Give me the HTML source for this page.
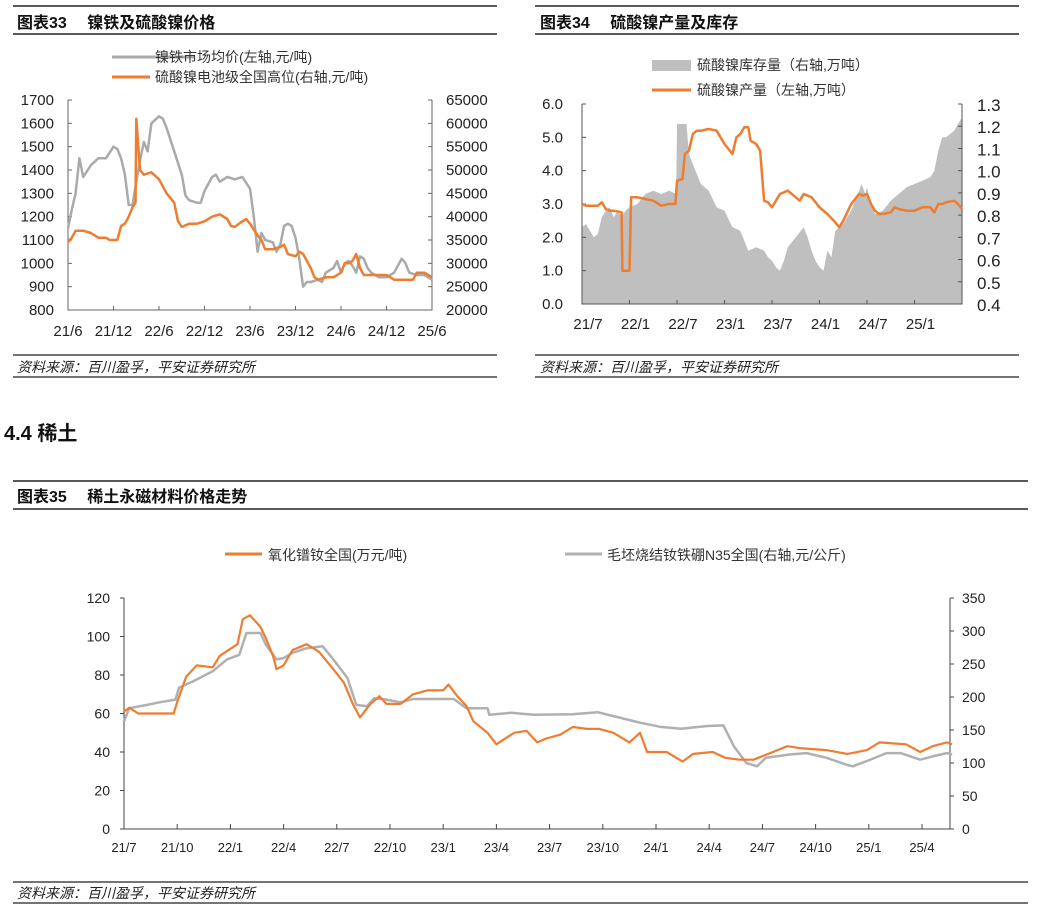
<!DOCTYPE html>
<html><head><meta charset="utf-8">
<style>
body{margin:0;background:#fff;width:1040px;height:910px;overflow:hidden;}
svg{display:block;font-family:"Liberation Sans","Noto Sans CJK SC",sans-serif;}
</style></head>
<body>
<svg id="page" width="1040" height="910" viewBox="0 0 1040 910" xmlns="http://www.w3.org/2000/svg">
 <g>
  <line x1="13" y1="6" x2="497" y2="6" stroke="#222" stroke-width="1.5"/>
  <text x="17" y="28" font-size="16" font-weight="bold" fill="#111">图表33　 镍铁及硫酸镍价格</text>
  <line x1="13" y1="34" x2="497" y2="34" stroke="#222" stroke-width="1.5"/>
  <line x1="68" y1="57" x2="150" y2="57" stroke="#aaa" stroke-width="3" transform="translate(44,0) scale(1,1)" />
  <text x="155" y="62" font-size="14" fill="#333">镍铁市场均价(左轴,元/吨)</text>
  <text x="155" y="82" font-size="14" fill="#333">硫酸镍电池级全国高位(右轴,元/吨)</text>
  <line x1="13" y1="355" x2="497" y2="355" stroke="#222" stroke-width="1.2"/>
  <text x="17" y="372" font-size="14" font-style="italic" fill="#222">资料来源：百川盈孚，平安证券研究所</text>
  <line x1="13" y1="377" x2="497" y2="377" stroke="#222" stroke-width="1.2"/>
 </g>
 <g>
  <line x1="535" y1="6" x2="1019" y2="6" stroke="#222" stroke-width="1.5"/>
  <text x="540" y="28" font-size="16" font-weight="bold" fill="#111">图表34　 硫酸镍产量及库存</text>
  <line x1="535" y1="34" x2="1019" y2="34" stroke="#222" stroke-width="1.5"/>
  <rect x="652" y="60" width="39" height="11" fill="#bfbfbf"/>
  <text x="697" y="70" font-size="14" fill="#333">硫酸镍库存量（右轴,万吨）</text>
  <line x1="652" y1="90" x2="691" y2="90" stroke="#ED7D31" stroke-width="3"/>
  <text x="697" y="95" font-size="14" fill="#333">硫酸镍产量（左轴,万吨）</text>
  <line x1="535" y1="355" x2="1019" y2="355" stroke="#222" stroke-width="1.2"/>
  <text x="540" y="372" font-size="14" font-style="italic" fill="#222">资料来源：百川盈孚，平安证券研究所</text>
  <line x1="535" y1="377" x2="1019" y2="377" stroke="#222" stroke-width="1.2"/>
 </g>
 <text x="4" y="440" font-size="20" font-weight="bold" fill="#111">4.4 稀土</text>
 <g>
  <line x1="13" y1="481" x2="1028" y2="481" stroke="#222" stroke-width="1.5"/>
  <text x="17" y="502" font-size="16" font-weight="bold" fill="#111">图表35　 稀土永磁材料价格走势</text>
  <line x1="13" y1="509" x2="1028" y2="509" stroke="#222" stroke-width="1.5"/>
  <line x1="225" y1="554" x2="262" y2="554" stroke="#ED7D31" stroke-width="3"/>
  <text x="268" y="560" font-size="14" fill="#333">氧化镨钕全国(万元/吨)</text>
  <line x1="565" y1="554" x2="602" y2="554" stroke="#b0b0b0" stroke-width="3"/>
  <text x="607" y="560" font-size="14" fill="#333">毛坯烧结钕铁硼N35全国(右轴,元/公斤)</text>
  <line x1="13" y1="882" x2="1028" y2="882" stroke="#222" stroke-width="1.2"/>
  <text x="17" y="898" font-size="14" font-style="italic" fill="#222">资料来源：百川盈孚，平安证券研究所</text>
  <line x1="13" y1="903" x2="1028" y2="903" stroke="#222" stroke-width="1.2"/>
 </g>
 <g id="c33"></g><g id="c34"></g><g id="c35"></g>
</svg>
<script>
// ---------- Chart 33 data ----------
const c33Ticks = ["21/6","21/12","22/6","22/12","23/6","23/12","24/6","24/12","25/6"];
const c33LeftTicks = [800,900,1000,1100,1200,1300,1400,1500,1600,1700];
const c33RightTicks = [20000,25000,30000,35000,40000,45000,50000,55000,60000,65000];
const feNiMonths = [0,0.5,1,1.5,2,3,4,5,6,6.5,7,7.5,8,8.5,9,9.5,10,10.5,11,12,12.5,13,14,15,15.5,16,17,17.5,18,19,19.5,20,21,22,23,24,24.5,25,25.5,26,27,27.5,28,28.5,29,29.5,30,30.5,31,31.5,32,33,33.5,34,35,35.5,36,36.5,37,37.5,38,38.5,39,39.5,40,41,42,43,43.5,44,44.5,45,46,47,48];
const feNiPrice = [1150,1230,1300,1450,1370,1420,1450,1450,1500,1490,1450,1380,1250,1250,1350,1440,1520,1480,1600,1630,1620,1580,1480,1380,1290,1270,1260,1260,1310,1370,1380,1350,1370,1360,1370,1320,1200,1050,1130,1100,1090,1050,1080,1160,1170,1160,1110,1020,900,920,920,930,920,960,980,1010,960,1000,1010,990,960,1030,1020,980,960,940,940,960,990,1020,1000,960,950,950,930];
const niSulfMonths = [0,0.5,1,2,3,4,5,5.5,6,6.5,7,7.5,8,8.5,8.9,9,9.5,10,11,12,13,14,14.5,15,16,17,18,19,20,21,21.5,22,23,23.5,24,25,25.5,26,27,28,28.5,29,30,30.5,31,32,32.5,33,34,35,36,36.5,37,37.5,38,38.5,39,40,41,42,43,44,45,45.5,46,47,47.5,48];
const niSulfPrice = [34500,35500,37000,37000,36500,35500,35500,35000,35000,35000,38000,38500,40000,42000,43000,61000,50000,49000,49500,48000,45000,43000,39000,37800,38500,38500,39000,40000,40500,39500,38000,37800,39000,39500,38500,36000,35000,33000,33000,33500,34000,32000,31500,32500,32000,29000,27000,26500,27000,27000,28000,30000,30000,30500,32000,29000,27500,27500,27500,27500,26500,26500,26500,26500,28000,28000,27500,27000];
// ---------- Chart 34 data ----------
const c34Ticks = ["21/7","22/1","22/7","23/1","23/7","24/1","24/7","25/1"];
const c34LeftTicks = ["0.0","1.0","2.0","3.0","4.0","5.0","6.0"];
const c34RightTicks = ["0.4","0.5","0.6","0.7","0.8","0.9","1.0","1.1","1.2","1.3"];
const invMonths = [0,0.5,1,1.5,2,2.5,3,3.5,4,4.5,5,5.5,6,7,8,9,10,11,11.9,12,13.2,13.5,14,15,16,17,18,19,20,21,22,23,23.5,24,24.5,25,25.5,26,27,28,28.5,29,29.5,30,30.5,31,31.5,32,33,33.5,34,35,35.3,35.8,36,36.5,37,38,39,40,41,42,43,44,44.5,45,45.5,46,46.5,47,47.5,48];
const invValue = [0.745,0.76,0.73,0.70,0.715,0.79,0.82,0.835,0.79,0.82,0.79,0.82,0.835,0.85,0.895,0.91,0.895,0.91,0.895,1.21,1.21,1.075,1.03,0.94,0.91,0.835,0.82,0.745,0.73,0.64,0.655,0.64,0.61,0.595,0.565,0.55,0.595,0.655,0.70,0.745,0.70,0.64,0.595,0.565,0.55,0.64,0.61,0.73,0.76,0.79,0.82,0.91,0.94,0.895,0.925,0.85,0.805,0.82,0.865,0.895,0.925,0.94,0.955,0.97,1.0,1.09,1.15,1.15,1.165,1.18,1.21,1.24];
const prodMonths = [0,0.5,1,2,2.5,3,3.5,4,5,5.1,6,6.2,7,8,9,10,11,11.8,12,12.7,13,13.5,14,14.5,15,16,17,18,19,19.5,20,20.5,21,21.3,22,22.5,23,23.5,24,25,26,27,27.5,28,29,30,31,32,32.5,33,34,35,35.5,36,36.5,37,37.5,38,39,39.5,40,41,42,43,44,44.5,45,45.5,46,47,47.5,48];
const prodValue = [3.0,2.95,2.95,2.95,3.05,2.85,2.8,2.8,2.75,1.0,1.0,3.2,3.2,3.15,3.1,2.95,3.0,3.0,3.7,3.75,4.5,4.6,5.1,5.2,5.2,5.25,5.2,4.8,4.5,5.0,5.1,5.3,5.3,4.9,4.8,4.6,3.1,3.05,2.9,3.3,3.4,3.2,3.1,3.3,3.2,2.9,2.7,2.45,2.3,2.5,3.0,3.3,3.25,3.3,3.0,2.8,2.7,2.7,2.75,2.9,2.85,2.8,2.8,2.9,2.9,2.75,3.0,3.0,3.05,3.1,3.0,2.85];
// ---------- Chart 35 data ----------
const c35Ticks = ["21/7","21/10","22/1","22/4","22/7","22/10","23/1","23/4","23/7","23/10","24/1","24/4","24/7","24/10","25/1","25/4"];
const c35LeftTicks = [0,20,40,60,80,100,120];
const c35RightTicks = [0,50,100,150,200,250,300,350];
const prndMonths = [0,0.3,0.8,1.5,2.8,3,3.5,4.1,5,5.4,6.4,6.7,7.1,7.7,8,8.4,8.6,9,9.5,10.3,11,11.8,12.4,12.9,13.3,13.9,14.4,14.8,15.6,16.3,17.1,18,18.3,18.8,19.3,19.7,20.5,21,22,22.7,23.3,23.8,24.6,25.3,26.1,26.8,27.6,28.5,29.1,29.5,30.6,31.5,32.1,33.2,33.9,34.7,35.5,36.6,37.4,38.1,39.6,40.8,41.9,42.6,44.1,44.9,45.6,46.4,46.7];
const prndPrice = [61,63,60,60,60,66,79,85,84,90,96,109,111,105,99,90,83,85,93,96,92,83,76,65,58,65,69,65,65,70,72,72,75,69,64,56,50,44,50,51,45,47,49,53,52,52,50,45,50,40,40,35,39,40,37,36,36,40,43,42,41,39,41,45,44,40,43,45,44];
const ndfebMonths = [0,0.3,1.3,2,2.9,3.1,3.9,5,5.8,6.5,6.9,7.7,8,8.6,9,9.5,10.3,11.2,11.8,12.6,13.1,13.7,14.1,14.8,15.6,16.3,18.6,19.3,20.5,20.6,21.8,23.1,25.3,26.7,27.6,29.1,30.2,31.4,32.9,33.8,34.4,35.1,35.7,36.2,37.6,38.5,39.6,40.8,41.1,41.9,43,43.8,44.9,45.6,46.4,46.7];
const ndfebPrice = [163,183,188,192,196,214,224,239,257,264,297,297,279,257,259,267,274,277,257,229,188,186,198,196,192,197,197,183,183,173,176,173,174,177,171,161,155,152,156,157,125,100,95,108,113,115,108,97,95,103,115,115,105,110,115,113];

const NS = "http://www.w3.org/2000/svg";
function mk(parent, tag, attrs, txt){
  const e = document.createElementNS(NS, tag);
  for (const k in attrs) e.setAttribute(k, attrs[k]);
  if (txt !== undefined) e.textContent = txt;
  parent.appendChild(e); return e;
}
function linScale(d0,d1,r0,r1){return v => r0 + (v-d0)/(d1-d0)*(r1-r0);}
function pathFrom(xs, ys, sx, sy){
  return xs.map((m,i)=>(i?"L":"M")+sx(m).toFixed(1)+","+sy(ys[i]).toFixed(1)).join("");
}

// ===== Chart 33 =====
(function(){
  const g = document.getElementById("c33");
  const L=68,R=432,T=100,B=310;
  const sx = linScale(0,48,L,R);
  const syL = linScale(800,1700,B,T);
  const syR = linScale(20000,65000,B,T);
  const axes = mk(g,"path",{d:`M${L},${T}V${B}H${R}V${T}`,fill:"none",stroke:"#666","stroke-width":1});
  
  
  c33LeftTicks.forEach(v=>{
    mk(g,"line",{x1:L,x2:L+4,y1:syL(v),y2:syL(v),stroke:"#666"});
    const t = mk(g,"text",{x:54,y:syL(v)+5,"text-anchor":"end","font-size":15,fill:"#222"},v);
    
    
  });
  c33RightTicks.forEach(v=>{
    mk(g,"line",{x1:R-4,x2:R,y1:syR(v),y2:syR(v),stroke:"#666"});
    const t = mk(g,"text",{x:446,y:syR(v)+5,"font-size":15,fill:"#222"},v);
    
    
  });
  c33Ticks.forEach((s,i)=>{
    const x = sx(i*6);
    mk(g,"line",{x1:x,x2:x,y1:B,y2:B-4,stroke:"#666"});
    const t = mk(g,"text",{x:x,y:336,"text-anchor":"middle","font-size":15,fill:"#222"},s);
    
    
  });
  const gl = mk(g,"line",{x1:112,x2:150,y1:57,y2:57,stroke:"#aaa","stroke-width":3});
  
  
  const ol = mk(g,"line",{x1:112,x2:150,y1:77,y2:77,stroke:"#ED7D31","stroke-width":3});
  
  
  const p1 = mk(g,"path",{d:pathFrom(feNiMonths,feNiPrice,sx,syL),fill:"none",stroke:"#aaa","stroke-width":2.5,"stroke-linejoin":"round"});
  
  
  const p2 = mk(g,"path",{d:pathFrom(niSulfMonths,niSulfPrice,sx,syR),fill:"none",stroke:"#ED7D31","stroke-width":2.5,"stroke-linejoin":"round"});
  
  
})();

// ===== Chart 34 =====
(function(){
  const g = document.getElementById("c34");
  const L=582,R=962,T=104,B=304;
  const sx = linScale(0,48,L,R);
  const syL = linScale(0,6,B,T);
  const syR = linScale(0.4,1.3,B,T);
  let d = `M${sx(invMonths[0])},${B}` + invMonths.map((m,i)=>"L"+sx(m).toFixed(1)+","+syR(invValue[i]).toFixed(1)).join("") + `L${sx(invMonths[invMonths.length-1])},${B}Z`;
  const area = mk(g,"path",{d:d,fill:"#bfbfbf"});
  
  
  const axes = mk(g,"path",{d:`M${L},${T}V${B}H${R}V${T}`,fill:"none",stroke:"#555","stroke-width":1});
  
  
  c34LeftTicks.forEach(s=>{
    const v=parseFloat(s);
    mk(g,"line",{x1:L,x2:L+4,y1:syL(v),y2:syL(v),stroke:"#555"});
    const t = mk(g,"text",{x:563,y:syL(v)+5,"text-anchor":"end","font-size":15,fill:"#222"},s);
    
    
  });
  c34RightTicks.forEach(s=>{
    const v=parseFloat(s);
    mk(g,"line",{x1:R-4,x2:R,y1:syR(v),y2:syR(v),stroke:"#555"});
    const t = mk(g,"text",{x:977,y:syR(v)+7,"font-size":17,fill:"#222"},s);
    
    
  });
  c34Ticks.forEach((s,i)=>{
    const x = sx(i*6);
    mk(g,"line",{x1:x,x2:x,y1:B,y2:B-4,stroke:"#555"});
    const t = mk(g,"text",{x:x+6,y:329,"text-anchor":"middle","font-size":15,fill:"#222"},s);
    
    
  });
  const p = mk(g,"path",{d:pathFrom(prodMonths,prodValue,sx,syL),fill:"none",stroke:"#ED7D31","stroke-width":2.5,"stroke-linejoin":"round"});
  
  
})();

// ===== Chart 35 =====
(function(){
  const g = document.getElementById("c35");
  const L=124,R=950,T=598,B=829;
  const sx = linScale(0,3,L,L+53.2);
  const syL = linScale(0,120,B,T);
  const syR = linScale(0,350,B,T);
  const axes = mk(g,"path",{d:`M${L},${T}V${B}H${R}V${T}`,fill:"none",stroke:"#444","stroke-width":1});
  
  
  c35LeftTicks.forEach(v=>{
    mk(g,"line",{x1:L-4,x2:L,y1:syL(v),y2:syL(v),stroke:"#444"});
    const t = mk(g,"text",{x:110,y:syL(v)+5,"text-anchor":"end","font-size":14,fill:"#222"},v);
    
    
  });
  c35RightTicks.forEach(v=>{
    mk(g,"line",{x1:R,x2:R+4,y1:syR(v),y2:syR(v),stroke:"#444"});
    const t = mk(g,"text",{x:962,y:syR(v)+5,"font-size":14,fill:"#222"},v);
    
    
  });
  c35Ticks.forEach((s,i)=>{
    const x = sx(i*3);
    mk(g,"line",{x1:x,x2:x,y1:B,y2:B-5,stroke:"#444"});
    const t = mk(g,"text",{x:x,y:852,"text-anchor":"middle","font-size":13,fill:"#222"},s);
    
    
  });
  const p1 = mk(g,"path",{d:pathFrom(ndfebMonths,ndfebPrice,sx,syR),fill:"none",stroke:"#b0b0b0","stroke-width":2.5,"stroke-linejoin":"round"});
  
  
  const p2 = mk(g,"path",{d:pathFrom(prndMonths,prndPrice,sx,syL),fill:"none",stroke:"#ED7D31","stroke-width":2.2,"stroke-linejoin":"round"});
  
  
})();
</script>
</body></html>
